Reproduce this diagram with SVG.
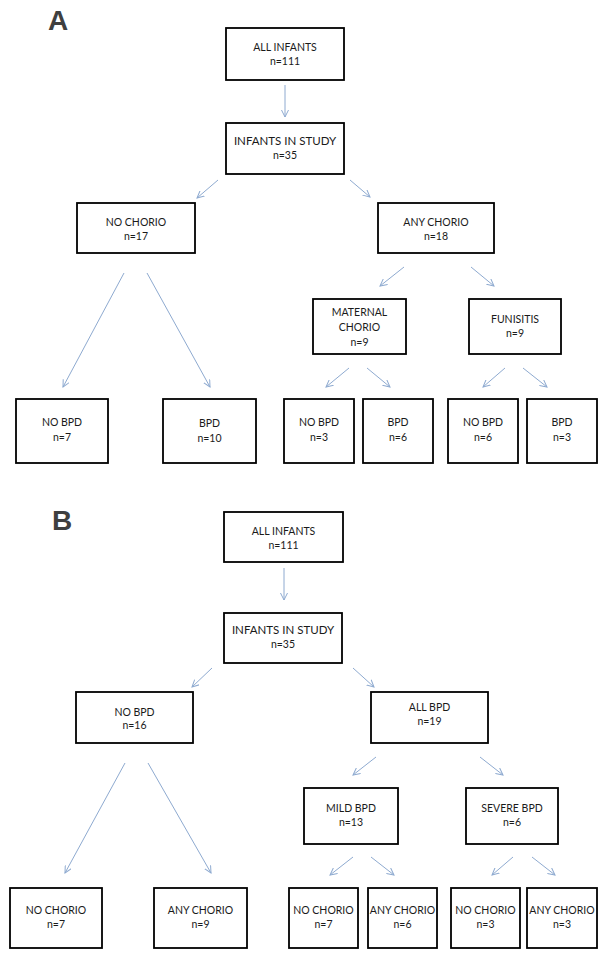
<svg xmlns="http://www.w3.org/2000/svg" width="604" height="958" viewBox="0 0 604 958">
<style>
.box{fill:#fff;stroke:#000;stroke-width:1.8}
.t{font-family:Lato,"Liberation Sans",sans-serif;font-size:10.5px;fill:#1a1a1a;text-anchor:middle}
.big{font-size:11.5px}
.lbl{font-family:"Liberation Sans",Arial,sans-serif;font-size:28px;font-weight:bold;fill:#3f3f3f}
.c line{stroke:#8eaad0;stroke-width:1;marker-end:url(#ah)}
</style>
<defs>
<marker id="ah" viewBox="0 0 8 8" refX="7" refY="4" markerWidth="8" markerHeight="8" markerUnits="userSpaceOnUse" orient="auto">
<path d="M0,0.5 L7,4 L0,7.5" fill="none" stroke="#8eaad0" stroke-width="1"/>
</marker>
</defs>
<rect width="604" height="958" fill="#fff"/>
<text class="lbl" x="48" y="30">A</text>
<text class="lbl" x="52" y="530">B</text>

<g class="c" id="connectors">
<line x1="285" y1="85" x2="285" y2="117"/>
<line x1="218" y1="180" x2="197" y2="198"/>
<line x1="350" y1="180" x2="370" y2="197"/>
<line x1="124" y1="273" x2="63" y2="387"/>
<line x1="147" y1="273" x2="210" y2="387"/>
<line x1="404" y1="267" x2="380" y2="286"/>
<line x1="471" y1="267" x2="494" y2="286"/>
<line x1="349" y1="368" x2="326" y2="387"/>
<line x1="367" y1="368" x2="390" y2="387"/>
<line x1="505" y1="368" x2="483" y2="387"/>
<line x1="523" y1="368" x2="547" y2="387"/>
<line x1="284" y1="568" x2="284" y2="600"/>
<line x1="212" y1="668" x2="192" y2="687"/>
<line x1="353" y1="668" x2="374" y2="687"/>
<line x1="125" y1="763" x2="65" y2="873"/>
<line x1="148" y1="763" x2="211" y2="873"/>
<line x1="376" y1="757" x2="353" y2="775"/>
<line x1="480" y1="757" x2="503" y2="775"/>
<line x1="353" y1="857" x2="330" y2="875"/>
<line x1="371" y1="857" x2="394" y2="875"/>
<line x1="513" y1="857" x2="492" y2="875"/>
<line x1="532" y1="857" x2="555" y2="875"/>
</g>

<g id="a_all"><rect class="box" x="226" y="28" width="118" height="52"/><text class="t" x="285" y="51">ALL INFANTS</text><text class="t" x="285" y="65">n=111</text></g>
<g id="a_study"><rect class="box" x="226" y="123" width="118" height="51"/><text class="t big" x="285" y="145">INFANTS IN STUDY</text><text class="t" x="285" y="159">n=35</text></g>
<g id="a_nochorio"><rect class="box" x="77" y="203" width="118" height="50"/><text class="t" x="136" y="226">NO CHORIO</text><text class="t" x="136" y="240">n=17</text></g>
<g id="a_anychorio"><rect class="box" x="378" y="203" width="116" height="50"/><text class="t" x="436" y="226">ANY CHORIO</text><text class="t" x="436" y="240">n=18</text></g>
<g id="a_maternal"><rect class="box" x="313" y="299" width="93" height="55"/><text class="t" x="359.5" y="316">MATERNAL</text><text class="t" x="359.5" y="331">CHORIO</text><text class="t" x="359.5" y="346">n=9</text></g>
<g id="a_funisitis"><rect class="box" x="469" y="299" width="92" height="55"/><text class="t" x="515" y="323">FUNISITIS</text><text class="t" x="515" y="337">n=9</text></g>
<g id="a_nobpd1"><rect class="box" x="16" y="399" width="92" height="64"/><text class="t" x="62" y="426">NO BPD</text><text class="t" x="62" y="441">n=7</text></g>
<g id="a_bpd1"><rect class="box" x="163" y="399" width="93" height="64"/><text class="t" x="209.5" y="427">BPD</text><text class="t" x="209.5" y="442">n=10</text></g>
<g id="a_nobpd2"><rect class="box" x="284" y="399" width="70" height="64"/><text class="t" x="319" y="426">NO BPD</text><text class="t" x="319" y="441">n=3</text></g>
<g id="a_bpd2"><rect class="box" x="363" y="399" width="70" height="64"/><text class="t" x="398" y="426">BPD</text><text class="t" x="398" y="441">n=6</text></g>
<g id="a_nobpd3"><rect class="box" x="448" y="399" width="70" height="64"/><text class="t" x="483" y="426">NO BPD</text><text class="t" x="483" y="441">n=6</text></g>
<g id="a_bpd3"><rect class="box" x="527" y="399" width="70" height="64"/><text class="t" x="562" y="426">BPD</text><text class="t" x="562" y="441">n=3</text></g>

<g id="b_all"><rect class="box" x="224" y="512" width="119" height="50"/><text class="t" x="283.5" y="535">ALL INFANTS</text><text class="t" x="283.5" y="549">n=111</text></g>
<g id="b_study"><rect class="box" x="224" y="613" width="118" height="50"/><text class="t big" x="283" y="634">INFANTS IN STUDY</text><text class="t" x="283" y="648">n=35</text></g>
<g id="b_nobpd"><rect class="box" x="76" y="692" width="117" height="51"/><text class="t" x="134.5" y="716">NO BPD</text><text class="t" x="134.5" y="729">n=16</text></g>
<g id="b_allbpd"><rect class="box" x="371" y="692" width="117" height="51"/><text class="t" x="429.5" y="711">ALL BPD</text><text class="t" x="429.5" y="725">n=19</text></g>
<g id="b_mild"><rect class="box" x="304" y="788" width="94" height="56"/><text class="t" x="351" y="812">MILD BPD</text><text class="t" x="351" y="826">n=13</text></g>
<g id="b_severe"><rect class="box" x="466" y="788" width="92" height="56"/><text class="t" x="512" y="812">SEVERE BPD</text><text class="t" x="512" y="826">n=6</text></g>
<g id="b_nochorio1"><rect class="box" x="10" y="888" width="92" height="60"/><text class="t" x="56" y="914">NO CHORIO</text><text class="t" x="56" y="928">n=7</text></g>
<g id="b_anychorio1"><rect class="box" x="154" y="888" width="93" height="60"/><text class="t" x="200.5" y="914">ANY CHORIO</text><text class="t" x="200.5" y="928">n=9</text></g>
<g id="b_nochorio2"><rect class="box" x="289" y="888" width="69" height="60"/><text class="t" x="323.5" y="914">NO CHORIO</text><text class="t" x="323.5" y="928">n=7</text></g>
<g id="b_anychorio2"><rect class="box" x="368" y="888" width="69" height="60"/><text class="t" x="402.5" y="914">ANY CHORIO</text><text class="t" x="402.5" y="928">n=6</text></g>
<g id="b_nochorio3"><rect class="box" x="451" y="888" width="69" height="60"/><text class="t" x="485.5" y="914">NO CHORIO</text><text class="t" x="485.5" y="928">n=3</text></g>
<g id="b_anychorio3"><rect class="box" x="527" y="888" width="70" height="60"/><text class="t" x="562" y="914">ANY CHORIO</text><text class="t" x="562" y="928">n=3</text></g>
</svg>
